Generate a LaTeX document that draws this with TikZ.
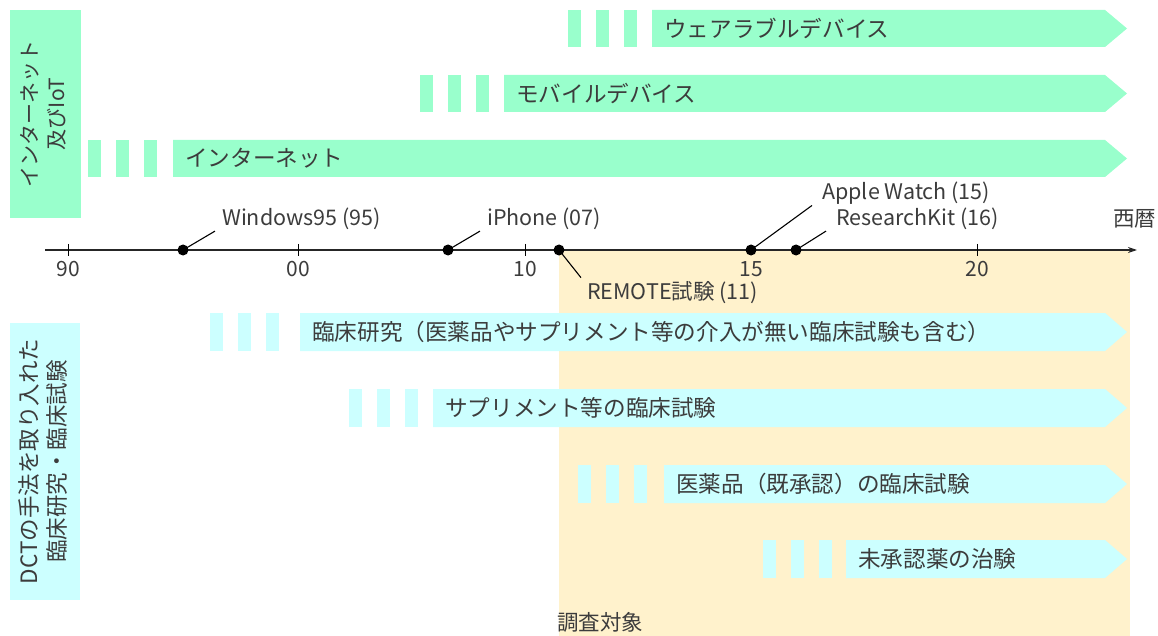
\documentclass[tikz,border=0pt]{standalone}
\usepackage{fontspec}
\setmainfont{Noto Sans CJK JP}
\usetikzlibrary{arrows.meta}
\definecolor{grn}{HTML}{99FFCC}
\definecolor{cyn}{HTML}{CCFFFF}
\definecolor{beige}{HTML}{FFF2CC}
\definecolor{txt}{HTML}{3C3C3C}
\tikzset{
  bartext/.style={anchor=west,inner sep=0pt,text=txt,font=\fontsize{22.6}{26}\selectfont},
  lbl/.style={anchor=west,inner sep=0pt,text=txt,font=\fontsize{21.5}{25}\selectfont},
  ticklbl/.style={inner sep=0pt,text=txt,font=\fontsize{21}{25}\selectfont},
  vlbl/.style={rotate=90,align=center,inner sep=0pt,text=txt,font=\fontsize{21}{27}\selectfont},
  vlblb/.style={rotate=90,align=center,inner sep=0pt,text=txt,font=\fontsize{22.5}{28}\selectfont},
  dot/.style={circle,fill=black,inner sep=0pt,minimum size=11pt},
  callout/.style={draw=black,line width=1.1pt},
  axis/.style={draw=black!85,line width=1.6pt,-{Stealth[length=9pt,width=6pt]}},
}
% #1 name, #2 colour, #3 first dash x, #4 box x, #5 top y, #6 bottom y, #7 text
\newcommand{\mkbar}[7]{%
  \fill[#2] (#3,#5) rectangle ++(13,#6-#5);
  \fill[#2] (#3+28,#5) rectangle ++(13,#6-#5);
  \fill[#2] (#3+56,#5) rectangle ++(13,#6-#5);
  \fill[#2] (#4,#5) -- (1105,#5) -- (1127,{(#5+#6)/2}) -- (1105,#6) -- (#4,#6) -- cycle;
  \node[bartext] (#1) at (#4+12,{(#5+#6)/2}) {#7};
}
\begin{document}
\begin{tikzpicture}[x=1pt,y=-1pt]
\useasboundingbox (0,0) rectangle (1158,636);
% survey region
\fill[beige] (559,250) rectangle (1130,636);
\node[lbl,anchor=south west] (survey) at (557,633) {調査対象};
% left category boxes
\node[fill=grn,minimum width=71pt,minimum height=208pt,inner sep=0pt] (catnet) at (45.5,114) {};
\node[vlbl] at ([xshift=-2pt]catnet.center) {インターネット\\及びIoT};
\node[fill=cyn,minimum width=70pt,minimum height=277pt,inner sep=0pt] (catdct) at (45,461.5) {};
\node[vlblb] at ([xshift=-2pt]catdct.center) {DCTの手法を取り入れた\\臨床研究・臨床試験};
% top bars
\mkbar{wear}{grn}{568}{652}{10}{47}{ウェアラブルデバイス}
\mkbar{mob}{grn}{420}{504}{75}{112}{モバイルデバイス}
\mkbar{net}{grn}{88}{173}{140}{177}{インターネット}
% bottom bars
\mkbar{rs}{cyn}{210}{300}{313}{351}{臨床研究（医薬品やサプリメント等の介入が無い臨床試験も含む）}
\mkbar{sup}{cyn}{349}{433}{389}{427}{サプリメント等の臨床試験}
\mkbar{drug}{cyn}{578}{664}{465}{503}{医薬品（既承認）の臨床試験}
\mkbar{unap}{cyn}{763}{846}{540}{578}{未承認薬の治験}
% timeline
\coordinate (tl0) at (45,250);
\coordinate (tl1) at (1137,250);
\draw[axis] (tl0) -- (tl1);
\foreach \x/\t in {68/90,298/00,525/10,977/20}{
  \draw[black,line width=1pt] (\x,244) -- (\x,256);
  \node[ticklbl] at (\x,269) {\t};
}
\node[ticklbl] at (751,269) {15};
\node[lbl] (era) at (1113,219) {西暦};
% events
\node[dot] (w95) at (183,250) {};
\node[dot] (iph) at (448,250) {};
\node[dot] (rem) at (559,250) {};
\node[dot] (aw) at (751,250) {};
\node[dot] (rk) at (796,250) {};
\node[lbl] (w95l) at (222,219) {Windows95 (95)};
\node[lbl] (iphl) at (487,219) {iPhone (07)};
\node[lbl] (awl) at (822,193) {Apple Watch (15)};
\node[lbl] (rkl) at (836,219) {ResearchKit (16)};
\node[lbl] (reml) at (587,293) {REMOTE試験 (11)};
\draw[callout] (w95.center) -- ([xshift=-7pt,yshift=-1pt]w95l.south west);
\draw[callout] (iph.center) -- ([xshift=-7pt,yshift=-1pt]iphl.south west);
\draw[callout] (aw.center) -- ([xshift=-10pt,yshift=-1pt]awl.south west);
\draw[callout] (rk.center) -- ([xshift=-10pt,yshift=-1pt]rkl.south west);
\draw[callout] (rem.center) -- ([xshift=-6pt,yshift=4pt]reml.north west);
\end{tikzpicture}
\end{document}
